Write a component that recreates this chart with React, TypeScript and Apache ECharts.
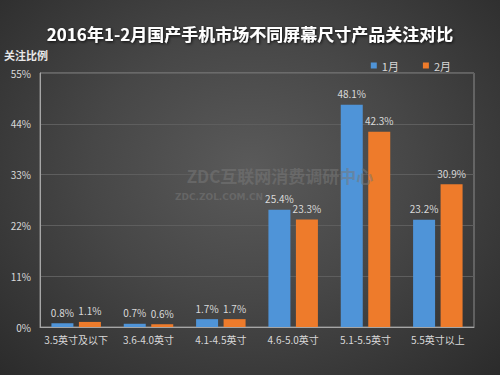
import React, { useEffect, useRef } from "react";
import * as echarts from "echarts";

const categories = ["3.5英寸及以下", "3.6-4.0英寸", "4.1-4.5英寸", "4.6-5.0英寸", "5.1-5.5英寸", "5.5英寸以上"];
const jan = [0.8, 0.7, 1.7, 25.4, 48.1, 23.2];
const feb = [1.1, 0.6, 1.7, 23.3, 42.3, 30.9];
const seriesNames = ["1月", "2月"];
const yTicks = [0, 11, 22, 33, 44, 55];

export default function App() {
  const ref = useRef<HTMLDivElement>(null);
  useEffect(() => {
    const chart = echarts.init(ref.current!, null, { renderer: "svg" });
    const labelStyle = {
      show: true,
      position: "top" as const,
      color: "#d9d9d9",
      fontSize: 10,
      fontFamily: "Noto Sans CJK SC",
      formatter: (p: any) => p.value.toFixed(1) + "%",
      distance: 6,
    };
    chart.setOption({
      animation: false,
      backgroundColor: "transparent",
      title: {
        text: "2016年1-2月国产手机市场不同屏幕尺寸产品关注对比",
        left: "center",
        top: 20,
        textStyle: {
          color: "#ffffff",
          fontSize: 17,
          fontWeight: "bold",
          fontFamily: "Noto Sans CJK SC",
          textShadowColor: "rgba(0,0,0,0.8)",
          textShadowBlur: 3,
          textShadowOffsetX: 1,
          textShadowOffsetY: 1,
        },
      },
      legend: {
        data: seriesNames,
        right: 44,
        top: 55,
        itemWidth: 6,
        itemHeight: 6,
        itemGap: 24,
        icon: "rect",
        textStyle: { color: "#d9d9d9", fontSize: 11, fontFamily: "Noto Sans CJK SC" },
      },
      graphic: [
        {
          type: "text",
          left: 4,
          top: 49,
          style: {
            text: "关注比例",
            fill: "#e8e8e8",
            fontSize: 11,
            fontWeight: "bold",
            fontFamily: "Noto Sans CJK SC",
          },
        },
        {
          type: "text",
          x: 280,
          y: 175,
          z: 100,
          style: {
            text: "ZDC互联网消费调研中心",
            fill: "rgba(120,120,120,0.55)",
            fontSize: 17,
            fontWeight: "bold",
            fontFamily: "Noto Sans CJK SC",
            align: "center",
            verticalAlign: "middle",
          },
        },
        {
          type: "text",
          x: 219,
          y: 197,
          z: 100,
          style: {
            text: "ZDC.ZOL.COM.CN",
            fill: "rgba(120,120,120,0.55)",
            fontSize: 9,
            fontWeight: "bold",
            fontFamily: "DejaVu Sans",
            align: "center",
            verticalAlign: "middle",
          },
        },
      ],
      grid: {
        left: 40,
        right: 26,
        top: 73,
        bottom: 48,
        show: true,
        borderColor: "#8c8c8c",
        borderWidth: 1,
        backgroundColor: "transparent",
      },
      xAxis: {
        type: "category",
        data: categories,
        axisLine: { show: true, lineStyle: { color: "#a6a6a6" } },
        axisTick: { show: false },
        axisLabel: { color: "#d9d9d9", fontSize: 10, fontFamily: "Noto Sans CJK SC", margin: 7, interval: 0 },
      },
      yAxis: {
        type: "value",
        min: 0,
        max: 55,
        interval: 11,
        axisLine: { show: true, lineStyle: { color: "#a6a6a6" } },
        axisTick: { show: false },
        splitLine: { show: true, lineStyle: { color: "#5e5e5e" } },
        axisLabel: {
          color: "#d9d9d9",
          fontSize: 10,
          fontFamily: "Noto Sans CJK SC",
          margin: 9,
          formatter: (v: number) => (yTicks.includes(v) ? v + "%" : ""),
        },
      },
      series: [
        {
          name: seriesNames[0],
          type: "bar",
          data: jan,
          barWidth: 22,
          barGap: "25%",
          itemStyle: { color: "#4f94d8" },
          label: labelStyle,
        },
        {
          name: seriesNames[1],
          type: "bar",
          data: feb,
          barWidth: 22,
          itemStyle: { color: "#ee7b2b" },
          label: labelStyle,
        },
      ],
    });
    return () => chart.dispose();
  }, []);
  return (
    <div
      ref={ref}
      style={{
        position: "absolute",
        left: 0,
        top: 0,
        width: 500,
        height: 375,
        background: "radial-gradient(ellipse at 50% 45%, #5a5a5a 0%, #474747 45%, #2b2b2b 100%)",
      }}
    />
  );
}
